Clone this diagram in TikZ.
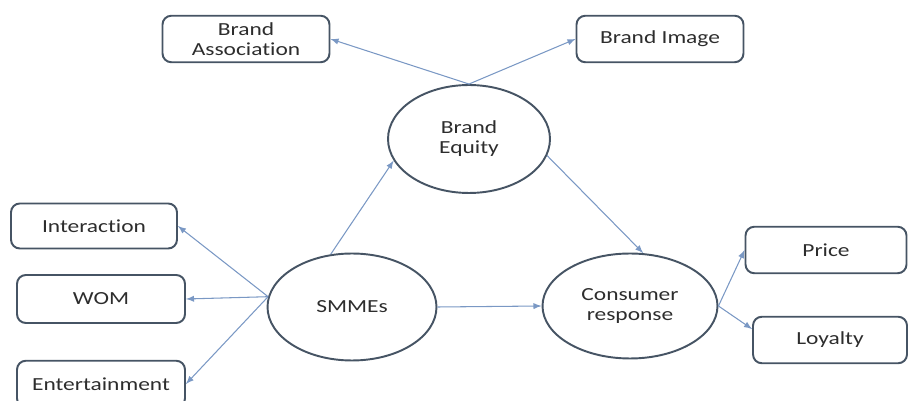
\documentclass[tikz,border=0pt]{standalone}
\usepackage{fontspec}
\setmainfont{Carlito}[FakeStretch=1.27, Ligatures=NoCommon]
\usepackage{tikz}
\usetikzlibrary{arrows}
\usetikzlibrary{shapes.geometric}
\usepackage{color}
\definecolor{slate}{RGB}{70, 84, 100}
\definecolor{ink}{RGB}{45, 45, 45}
\definecolor{steel}{RGB}{122, 152, 196}
\tikzset{
    boxnode/.style={draw=slate, line width=1.1pt, rounded corners=5pt, fill=white,
                    text=ink, align=center, inner sep=0pt, minimum height=0.93cm},
    ovalnode/.style={draw=slate, line width=1.1pt, ellipse, fill=white,
                     text=ink, align=center, inner sep=0pt},
    link/.style={draw=steel, line width=0.6pt, -latex}
}
\begin{document}
\begin{tikzpicture}[x=0.02cm, y=-0.02cm, font=\fontsize{10.5}{11.4}\selectfont]
            \useasboundingbox                                             (0, 0) rectangle (909, 401);
            % ovals
            \node[ovalnode, minimum width=3.24cm, minimum height=2.16cm] (BE) at (469, 139) {Brand\\Equity};
            \node[ovalnode, minimum width=3.38cm, minimum height=2.14cm] (SM) at (352, 307) {SMMEs};
            \node[ovalnode, minimum width=3.50cm, minimum height=2.10cm] (CR) at (630, 306) {Consumer\\response};
            % boxes
            \node[boxnode, minimum width=3.34cm]                          (BA) at (246, 39)  {Brand\\Association};
            \node[boxnode, minimum width=3.34cm]                          (BI) at (660, 39)  {Brand Image};
            \node[boxnode, minimum width=3.32cm, minimum height=0.90cm]   (IN) at (94, 226)  {Interaction};
            \node[boxnode, minimum width=3.36cm, minimum height=0.96cm]   (WO) at (101, 299) {WOM};
            \node[boxnode, minimum width=3.36cm]                          (EN) at (101, 384) {Entertainment};
            \node[boxnode, minimum width=3.22cm]                          (PR) at (826, 250) {Price};
            \node[boxnode, minimum width=3.08cm]                          (LO) at (830, 340) {Loyalty};
            % links
            \draw[link] (BE.north)  -- (BA.east);
            \draw[link] (BE.north)  -- (BI.west);
            \draw[link] (SM.112)    -- (BE.196);
            \draw[link] (BE.-12)    -- (CR.76);
            \draw[link] (SM.east)   -- (CR.west);
            \draw[link] (SM.173)    -- (IN.east);
            \draw[link] (SM.173)    -- (WO.east);
            \draw[link] (SM.173)    -- (EN.east);
            \draw[link] (CR.east)   -- (PR.west);
            \draw[link] (CR.east)   -- (LO.172);
        \end{tikzpicture}
\end{document}
